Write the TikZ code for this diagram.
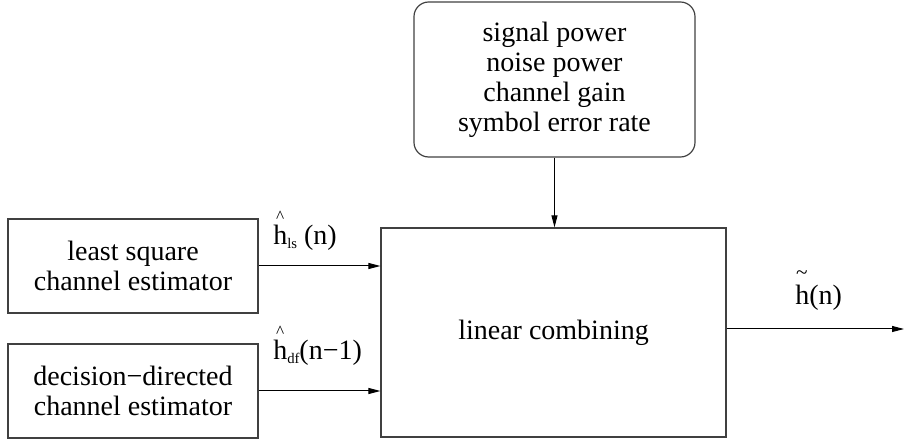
\documentclass[tikz,border=0pt]{standalone}
\usepackage{fontspec}
\setmainfont{Liberation Serif}
\usetikzlibrary{arrows.meta}
\newcommand{\hhat}{\makebox[0pt][l]{\hspace{0.1em}\raisebox{0.8em}{\fontsize{13}{13}\selectfont\symbol{"5E}}}h}
\newcommand{\htil}{\makebox[0pt][l]{\hspace{0.03em}\raisebox{0.9em}{\fontsize{16}{16}\selectfont\symbol{"7E}}}h}
\newcommand{\sub}[1]{\raisebox{-0.12em}{\fontsize{11}{11}\selectfont #1}}
\tikzset{
  blk/.style={draw=black!75, line width=0.9pt, inner sep=0pt, align=center,
    font=\fontsize{21}{22.5}\selectfont},
  lbl/.style={inner sep=0pt, anchor=base west, font=\fontsize{21}{22.5}\selectfont},
  >={Triangle[length=9pt,width=4.5pt]}
}
\begin{document}
\begin{tikzpicture}[x=0.75pt,y=-0.75pt]
    \useasboundingbox (0,0) rectangle (904,441);
    \node[blk, rounded corners=11pt, minimum width=210.75pt, minimum height=116.25pt]
      at (554.5,79.5) (info) {signal power\\noise power\\channel gain\\symbol error rate};
    \node[blk, minimum width=187.5pt, minimum height=70.5pt]
      at (133,266) (ls) {least square\\channel estimator};
    \node[blk, minimum width=187.5pt, minimum height=70.5pt]
      at (133,391) (df) {decision−directed\\channel estimator};
    \node[blk, minimum width=258.75pt, minimum height=156.75pt]
      at (553.5,332.5) (comb) {linear combining};
    \node[lbl] at (273,245) (lsLbl) {\hhat\sub{ls} (n)};
    \node[lbl] at (273,360) (dfLbl) {\hhat\sub{df}(n−1)};
    \node[lbl] at (795,305) (outLbl) {\htil(n)};
    \coordinate (out) at (904,329);
    \draw[->, line width=0.75pt] (info.south) -- (info.south |- comb.north);
    \draw[->, line width=0.75pt] (ls.east) -- (ls.east -| comb.west);
    \draw[->, line width=0.75pt] (df.east) -- (df.east -| comb.west);
    \draw[->, line width=0.75pt] (out -| comb.east) -- (out);
  \end{tikzpicture}
\end{document}
